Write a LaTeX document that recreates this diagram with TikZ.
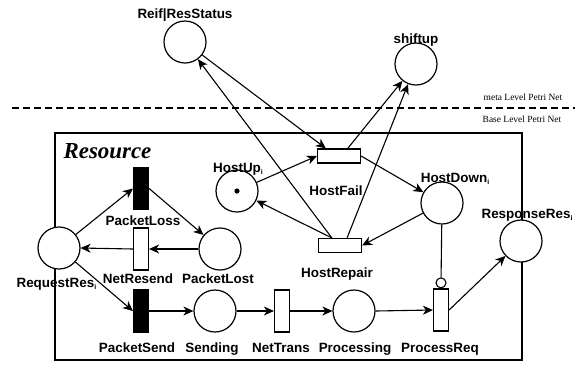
\documentclass[tikz,border=0pt]{standalone}
\usepackage{fontspec}
\setmainfont{Liberation Serif}
\newfontfamily\labfont{Liberation Sans}
\usetikzlibrary{arrows.meta}
\newcommand\lab{\labfont\bfseries\fontsize{13.5}{15}\selectfont}
\newcommand\sbi{\raisebox{-2.5bp}{\fontsize{7}{8}\selectfont i}}
\begin{document}
\begin{tikzpicture}[x=1bp,y=-1bp,line width=1.1bp,
  pnarc/.style={-{Stealth[length=10bp,width=9bp,inset=3bp]}},
  place/.style={circle,draw,line width=1.2bp,fill=white,minimum size=42bp,inner sep=0pt},
  vtrans/.style={rectangle,draw,line width=1.2bp,fill=white,minimum width=15bp,minimum height=42bp,inner sep=0pt},
  htrans/.style={rectangle,draw,line width=1.2bp,fill=white,minimum width=43bp,minimum height=14bp,inner sep=0pt},
  blk/.style={fill=black},
  lbl/.style={font=\lab,inner sep=0pt,anchor=base},
  note/.style={font=\fontsize{9.5}{11}\selectfont,inner sep=0pt,anchor=base},
  inhib/.style={circle,draw,fill=white,minimum size=10bp,inner sep=0pt}
]
\useasboundingbox (0,0) rectangle (575,365);
% level separator
\draw[line width=2bp,dash pattern=on 7bp off 4bp] (12,108) -- (575,108);
\node[note] (meta) at (523,100) {meta Level Petri Net};
\node[note] (base) at (522,122) {Base Level Petri Net};
% resource box
\draw (55,133) rectangle (522,360);
\node[font=\fontsize{23}{26}\selectfont\bfseries\itshape,inner sep=0pt,anchor=base west] (rtitle) at (63,158) {Resource};
% places
\node[place] (reif) at (185,42) {};
\node[place] (shift) at (416,64) {};
\node[place] (hup) at (237,191) {};
\fill (hup) circle (2.6bp);
\node[place] (hdown) at (442,203) {};
\node[place] (resp) at (521,241) {};
\node[place] (req) at (59,248) {};
\node[place] (plost) at (220,249) {};
\node[place] (send) at (215,311) {};
\node[place] (proc) at (354,311) {};
% transitions
\node[htrans] (hfail) at (339,156) {};
\node[htrans] (hrep) at (340,245.5) {};
\node[vtrans,blk] (ploss) at (141,188.5) {};
\node[vtrans] (nres) at (141,249) {};
\node[vtrans,blk] (psend) at (141,311) {};
\node[vtrans] (ntrans) at (282,311) {};
\node[vtrans] (preq) at (441,310) {};
\node[inhib,anchor=south] (inh) at (preq.north) {};
% labels
\node[lbl] (lreif) at (185,18) {Reif|ResStatus};
\node[lbl] (lshift) at (416,43) {shiftup};
\node[lbl] (lhup) at (238,172) {HostUp\sbi};
\node[lbl] (lhfail) at (336,195) {HostFail};
\node[lbl] (lhdown) at (455,182) {HostDown\sbi};
\node[lbl] (lhrep) at (337,277) {HostRepair};
\node[lbl,anchor=base west] (lresp) at (481,218) {ResponseRes\sbi};
\node[lbl,anchor=base west] (lreq) at (16,287) {RequestRes\sbi};
\node[lbl] (lploss) at (143,225) {PacketLoss};
\node[lbl] (lnres) at (138,283) {NetResend};
\node[lbl] (lplost) at (218,283) {PacketLost};
\node[lbl] (lpsend) at (137,352) {PacketSend};
\node[lbl] (lsend) at (212,352) {Sending};
\node[lbl] (lntrans) at (281,352) {NetTrans};
\node[lbl] (lproc) at (355,352) {Processing};
\node[lbl] (lpreq) at (440,352) {ProcessReq};
% arcs: resource net
\draw[pnarc] (req) -- (ploss.west);
\draw[pnarc] (ploss.east) -- (plost);
\draw[pnarc] (plost.west) -- (nres.east);
\draw[pnarc] (nres.west) -- (req.east);
\draw[pnarc] (req) -- (psend.west);
\draw[pnarc] (psend.east) -- (send.west);
\draw[pnarc] (send.east) -- (ntrans.west);
\draw[pnarc] (ntrans.east) -- (proc.west);
\draw[pnarc] (proc.east) -- (preq.west);
\draw[pnarc] (preq.east) -- (resp);
\draw (hdown) -- (inh);
% host net
\draw[pnarc] (hup) -- (hfail.west);
\draw[pnarc] (hfail.east) -- (hdown);
\draw[pnarc] (hdown) -- (hrep.east);
\draw[pnarc] (hrep.137) -- (hup);
% meta arcs
\draw[pnarc] (reif) -- (hfail.150);
\draw[pnarc] (hrep.137) -- (reif);
\draw[pnarc] (hfail.41) -- (shift);
\draw[pnarc] (hrep.47) -- (shift);
\end{tikzpicture}
\end{document}
